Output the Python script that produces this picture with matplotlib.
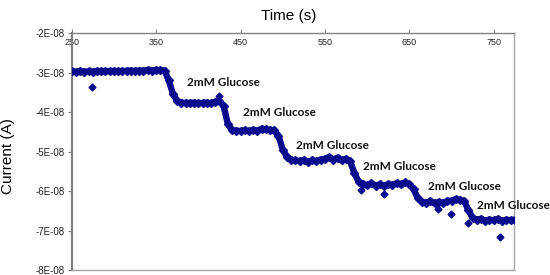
import matplotlib
matplotlib.use("Agg")
import matplotlib.pyplot as plt
import numpy as np

# ---- data (current in units of 1E-08 A) ----
time_s = [250, 255, 260, 265, 270, 275, 280, 285, 290, 295,
          300, 305, 310, 315, 320, 325, 330, 335, 340, 345,
          350, 355, 360, 365, 370, 375, 380, 385, 390, 395,
          400, 405, 410, 415, 420, 425, 430, 435, 440, 445,
          450, 455, 460, 465, 470, 475, 480, 485, 490, 495,
          500, 505, 510, 515, 520, 525, 530, 535, 540, 545,
          550, 555, 560, 565, 570, 575, 580, 585, 590, 595,
          600, 605, 610, 615, 620, 625, 630, 635, 640, 645,
          650, 655, 660, 665, 670, 675, 680, 685, 690, 695,
          700, 705, 710, 715, 720, 725, 730, 735, 740, 745,
          750, 755, 760, 765, 770, 775]
current_e8 = [-2.97, -2.98, -2.96, -2.98, -2.97, -2.98, -2.96, -2.97, -2.96, -2.97,
              -2.96, -2.97, -2.96, -2.96, -2.95, -2.96, -2.95, -2.95, -2.94, -2.95,
              -2.93, -2.94, -2.95, -3.20, -3.55, -3.72, -3.76, -3.77, -3.78, -3.76,
              -3.78, -3.77, -3.76, -3.78, -3.74, -3.72, -3.85, -4.30, -4.46, -4.47,
              -4.48, -4.46, -4.48, -4.45, -4.47, -4.42, -4.44, -4.45, -4.46, -4.60,
              -4.95, -5.13, -5.20, -5.22, -5.24, -5.21, -5.27, -5.22, -5.25, -5.20,
              -5.18, -5.14, -5.20, -5.15, -5.22, -5.18, -5.25, -5.55, -5.76, -5.82,
              -5.85, -5.80, -5.86, -5.83, -5.87, -5.82, -5.85, -5.80, -5.83, -5.78,
              -5.82, -5.95, -6.18, -6.27, -6.29, -6.25, -6.31, -6.27, -6.30, -6.25,
              -6.24, -6.20, -6.22, -6.25, -6.48, -6.68, -6.72, -6.70, -6.75, -6.72,
              -6.74, -6.70, -6.76, -6.72, -6.74, -6.72]

outlier_time = [274, 424, 593, 620, 684, 699, 720, 758]
outlier_e8 = [-3.37, -3.59, -5.98, -6.08, -6.44, -6.57, -6.81, -7.15]

label_time = [386, 453, 516, 595, 672, 730]
label_e8 = [-3.26, -4.02, -4.85, -5.38, -5.89, -6.36]
label_text = "2mM Glucose"

y_ticks_e8 = [-8, -7, -6, -5, -4, -3, -2]
y_tick_labels = ["-8E-08", "-7E-08", "-6E-08", "-5E-08", "-4E-08", "-3E-08", "-2E-08"]
x_ticks = [250, 350, 450, 550, 650, 750]

plt.rcParams['font.family'] = ['Liberation Sans', 'DejaVu Sans']

fig = plt.figure(figsize=(5.5, 2.75), dpi=100)
ax = fig.add_axes([0.1304, 4.8 / 275, 0.8041, (270.2 - 33) / 275])

col = '#0a0a8c'
t = np.array(time_s)
c = np.array(current_e8) * 1e-8
ax.plot(t, c, color=col, lw=4.6, solid_joinstyle='round', solid_capstyle='round', zorder=3)
ax.plot(t, c, ls='none', marker='D', ms=4, color=col, zorder=3)
ax.plot(outlier_time, np.array(outlier_e8) * 1e-8, ls='none', marker='D', ms=3.5, color=col, zorder=3)

for lt, lv in zip(label_time, label_e8):
    ax.text(lt, lv * 1e-8, label_text, ha='left', va='center', fontsize=8.5,
            fontweight='bold', family=['Lato', 'DejaVu Sans'], color='#111111', zorder=4)

ax.set_xlim(250, 774)
ax.set_ylim(-8e-8, -2e-8)
ax.set_yticks(np.array(y_ticks_e8) * 1e-8)
ax.set_yticklabels(y_tick_labels)
ax.set_xticks(x_ticks)
ax.set_xticklabels([str(v) for v in x_ticks])

ax.tick_params(axis='x', top=True, bottom=False, labeltop=True, labelbottom=False,
               direction='out', length=3, width=0.8, color='#808080', pad=-13,
               labelsize=6.5, labelcolor='#222222')
ax.tick_params(axis='y', direction='out', length=3, width=0.8, color='#808080',
               labelsize=7, labelcolor='#222222', pad=2)

ax.spines['left'].set_color('#808080')
ax.spines['left'].set_linewidth(1.6)
ax.spines['top'].set_color('#808080')
ax.spines['top'].set_linewidth(1.0)
for s in ['right', 'bottom']:
    ax.spines[s].set_color('#a6a6a6')
    ax.spines[s].set_linewidth(1.0)

fig.text(289 / 550, 1 - 16 / 275, "Time (s)", ha='center', va='center', fontsize=11)
fig.text(8 / 550, 1 - 156 / 275, "Current (A)", ha='center', va='center', fontsize=11, rotation=90)

fig.savefig('out.png', dpi=100)
